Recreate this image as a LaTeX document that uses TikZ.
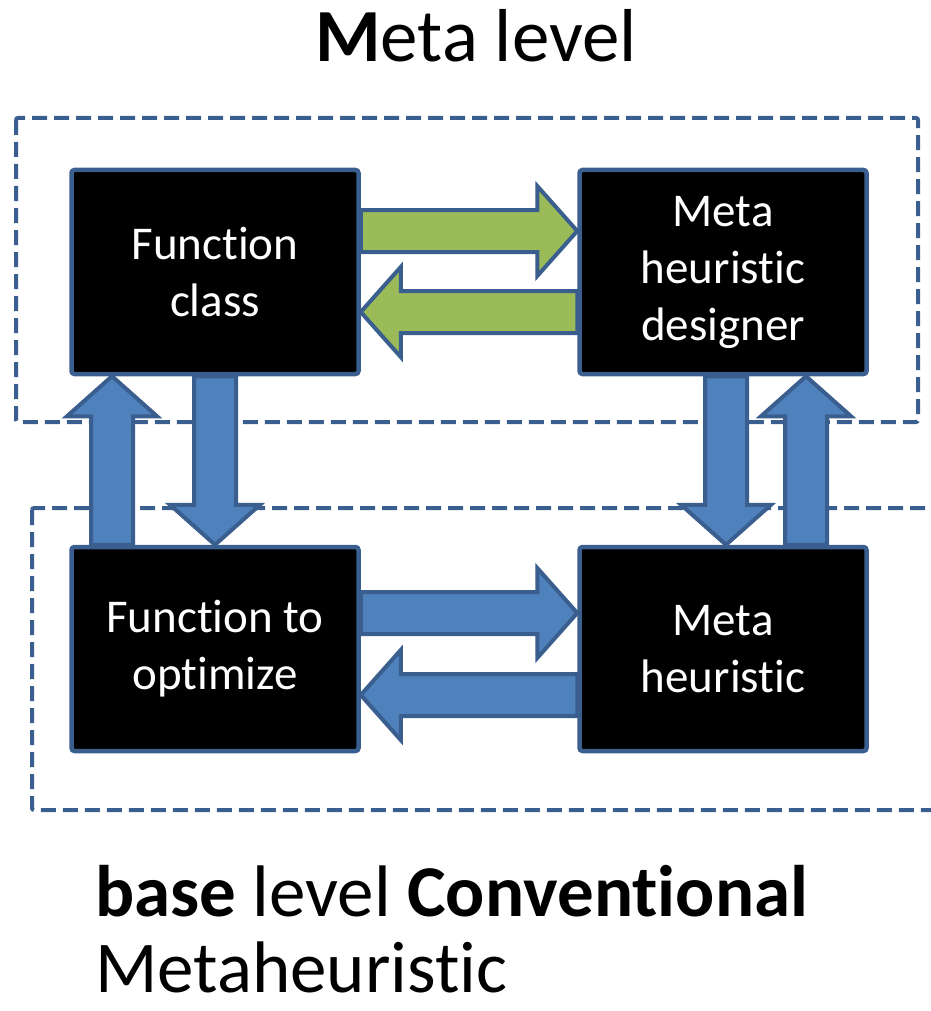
\documentclass[tikz,border=0pt]{standalone}
\usepackage{fontspec}
\setmainfont{Carlito}[RawFeature={-liga;-clig;-dlig}]
\usetikzlibrary{calc,backgrounds}
\definecolor{edge}{HTML}{3A5F8E}
\definecolor{leaf}{HTML}{9BBB59}
\definecolor{sky}{HTML}{4F81BD}

% block arrow: #1 fill, #2 tail, #3 tip
\newcommand\blockarr[3]{%
  \coordinate (ba-h) at ($(#3)!40pt!(#2)$);
  \draw[blk,fill=#1] ($(#2)!21pt!90:(#3)$) -- ($(ba-h)!21pt!-90:(#2)$)
    -- ($(ba-h)!45pt!-90:(#2)$) -- (#3) -- ($(ba-h)!45pt!90:(#2)$)
    -- ($(ba-h)!21pt!90:(#2)$) -- ($(#2)!21pt!-90:(#3)$) -- cycle;}

\begin{document}
\begin{tikzpicture}[x=1pt,y=-1pt,
 box/.style={draw=edge,line width=4.5pt,fill=black,rounded corners=3pt,
 minimum width=287pt,minimum height=204pt,inner sep=0pt,align=center,
 text=white,font=\fontsize{47}{57}\selectfont},
 blk/.style={draw=edge,line width=4pt,line join=miter},
 zone/.style={draw=edge,line width=4pt,dash pattern=on 15pt off 7pt,rounded corners=2pt},
 lbl/.style={inner sep=0pt,font=\fontsize{73}{85}\selectfont}]
\clip (0,0) rectangle (930,1011);
\node[box] (fc) at (215,272) {Function\\class};
\node[box] (mhd) at (723,272) {Meta\\heuristic\\designer};
\node[box] (fto) at (215,649) {Function to\\optimize};
\node[box] (mh) at (723,649) {Meta\\heuristic};
\node[lbl,anchor=base] (meta) at (476,62) {\fontsize{75}{85}\selectfont\textbf{M}eta level};
\node[lbl,anchor=base west] (base) at (95,916) {\textbf{base} level \textbf{Conventional}};
\node[lbl,anchor=base west] (conv) at (95,992) {Metaheuristic};
\begin{scope}[on background layer]
\draw[zone] (16,118) rectangle (918,422);
\draw[zone] (32,508) rectangle (960,810);
% meta level exchange
\blockarr{leaf}{[yshift=41pt]fc.east}{[yshift=41pt]mhd.west}
\blockarr{leaf}{[yshift=-40pt]mhd.west}{[yshift=-40pt]fc.east}
% between levels
\blockarr{sky}{[xshift=-103pt]fto.north}{[xshift=-103pt]fc.south}
\blockarr{sky}{fc.south}{fto.north}
\blockarr{sky}{[xshift=3pt]mhd.south}{[xshift=3pt]mh.north}
\blockarr{sky}{[xshift=83pt]mh.north}{[xshift=83pt]mhd.south}
% base level exchange
\blockarr{sky}{[yshift=36pt]fto.east}{[yshift=36pt]mh.west}
\blockarr{sky}{[yshift=-46pt]mh.west}{[yshift=-46pt]fto.east}
\end{scope}
\end{tikzpicture}
\end{document}
